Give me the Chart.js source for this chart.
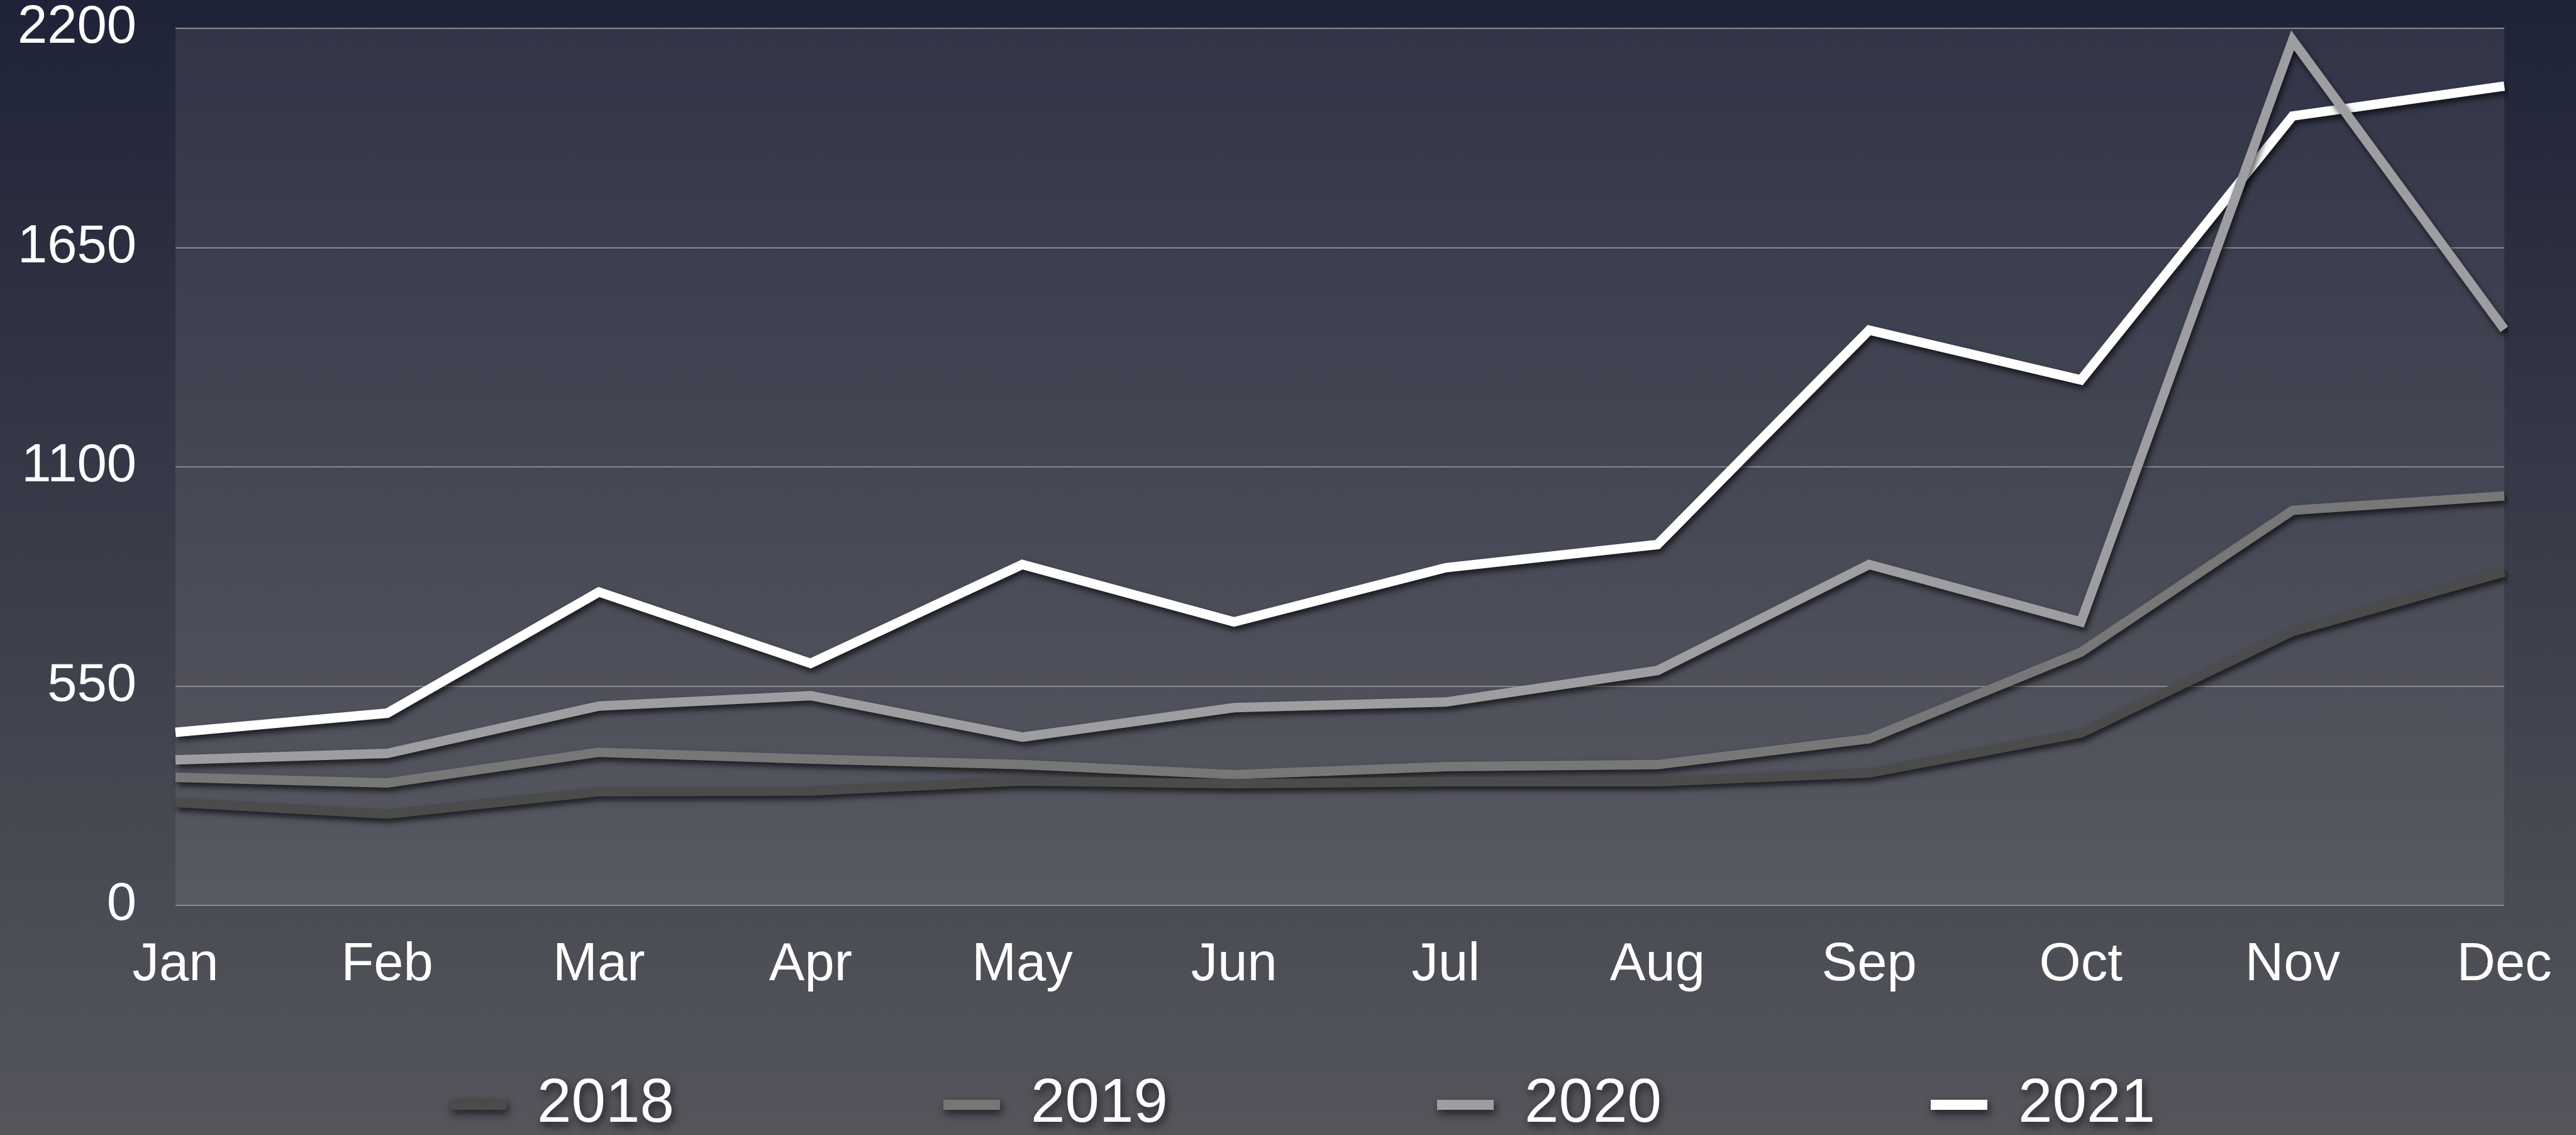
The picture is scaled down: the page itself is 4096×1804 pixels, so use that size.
<!DOCTYPE html>
<html lang="en">
<head>
<meta charset="UTF-8">
<title>Monthly totals 2018-2021</title>
<script src="https://cdn.jsdelivr.net/npm/chart.js"></script>
<style>
  html, body { margin: 0; padding: 0; }
  body {
    width: 4096px;
    height: 1804px;
    overflow: hidden;
    background: linear-gradient(to bottom, #1f2337 0%, #55565c 100%);
  }
  #wrap { position: relative; width: 4096px; height: 1804px; }
</style>
</head>
<body>
<div id="wrap"><canvas id="chart"></canvas></div>
<script>
// data
const months = ['Jan', 'Feb', 'Mar', 'Apr', 'May', 'Jun', 'Jul', 'Aug', 'Sep', 'Oct', 'Nov', 'Dec'];
const years = ['2018', '2019', '2020', '2021'];
const values2018 = [258, 229, 285, 287, 312, 305, 310, 310, 332, 432, 687, 836];
const values2019 = [321, 307, 384, 367, 353, 328, 348, 353, 418, 635, 991, 1027];
const values2020 = [365, 381, 500, 526, 422, 496, 510, 589, 855, 711, 2170, 1445];
const values2021 = [434, 482, 786, 607, 855, 711, 847, 905, 1443, 1318, 1980, 2055];
const yTicks = [0, 550, 1100, 1650, 2200];

const lineColors = ['#4b4b4b', '#777777', '#9e9ea2', '#ffffff'];

// layout (already scaled 0.982)
const LEGEND_PAD = 428;      // gap between legend items
const LEGEND_H = 97;
const LEGEND_DX = 80;
const X_AXIS_H = 268;
const Y_AXIS_W = 279;

Chart.defaults.font.family = "'Liberation Sans', Arial, sans-serif";
Chart.defaults.color = '#ffffff';

const series = [values2018, values2019, values2020, values2021];

function addShadow(ctx, blur) {
  ctx.shadowColor = 'rgba(0,0,0,0.65)';
  ctx.shadowBlur = blur;
  ctx.shadowOffsetX = 3;
  ctx.shadowOffsetY = 6;
}

const decor = {
  id: 'decor',
  afterInit(chart) {
    const legend = chart.legend;
    const fit = legend.fit;
    legend.fit = function () {
      fit.call(this);
      this.height = LEGEND_H;
    };
    const draw = legend._draw;
    legend._draw = function () {
      const ctx = this.ctx;
      ctx.save();
      ctx.translate(LEGEND_DX, -LEGEND_PAD);
      addShadow(ctx, 14);
      draw.call(this);
      ctx.restore();
    };
  },
  beforeDraw(chart) {
    const { ctx, chartArea: a } = chart;
    ctx.save();
    ctx.fillStyle = 'rgba(255,255,255,0.08)';
    ctx.fillRect(a.left, a.top, a.right - a.left, a.bottom - a.top);
    ctx.restore();
  },
  beforeDatasetsDraw(chart) {
    chart.ctx.save();
    addShadow(chart.ctx, 10);
  },
  afterDatasetsDraw(chart) {
    chart.ctx.restore();
  }
};

new Chart(document.getElementById('chart'), {
  type: 'line',
  data: {
    labels: months,
    datasets: years.map((y, i) => ({
      label: y,
      data: series[i],
      borderColor: lineColors[i],
      backgroundColor: lineColors[i],
      borderWidth: 15,
      borderJoinStyle: 'miter',
      pointRadius: 0,
      tension: 0,
      fill: false
    }))
  },
  options: {
    responsive: true,
    maintainAspectRatio: false,
    devicePixelRatio: 1,
    animation: false,
    layout: { padding: { top: 45, right: 114, bottom: 0, left: 0 } },
    plugins: {
      tooltip: { enabled: false },
      legend: {
        position: 'bottom',
        labels: {
          color: '#ffffff',
          font: { size: 98, lineHeight: 1 },
          boxWidth: 90,
          boxHeight: 16,
          padding: LEGEND_PAD,
          generateLabels(chart) {
            return Chart.defaults.plugins.legend.labels.generateLabels(chart)
              .map(l => Object.assign(l, { lineWidth: 0, strokeStyle: 'rgba(0,0,0,0)' }));
          }
        }
      }
    },
    scales: {
      x: {
        grid: { display: false, drawTicks: true, tickLength: 51 },
        border: { display: false },
        ticks: {
          color: '#ffffff',
          font: { size: 85, lineHeight: 1 },
          padding: 2,
          maxRotation: 0,
          autoSkip: false
        },
        afterFit(s) { s.height = X_AXIS_H; }
      },
      y: {
        min: 0,
        max: 2200,
        afterBuildTicks(s) { s.ticks = yTicks.map(v => ({ value: v })); },
        grid: {
          color: '#8a8a8e',
          lineWidth: 2,
          drawTicks: true,
          tickLength: 60,
          tickColor: 'rgba(0,0,0,0)'
        },
        border: { display: false },
        ticks: {
          color: '#ffffff',
          font: { size: 85, lineHeight: 1 },
          padding: 2,
          callback: v => String(v)
        },
        afterFit(s) { s.width = Y_AXIS_W; }
      }
    }
  },
  plugins: [decor]
});
</script>
</body>
</html>
